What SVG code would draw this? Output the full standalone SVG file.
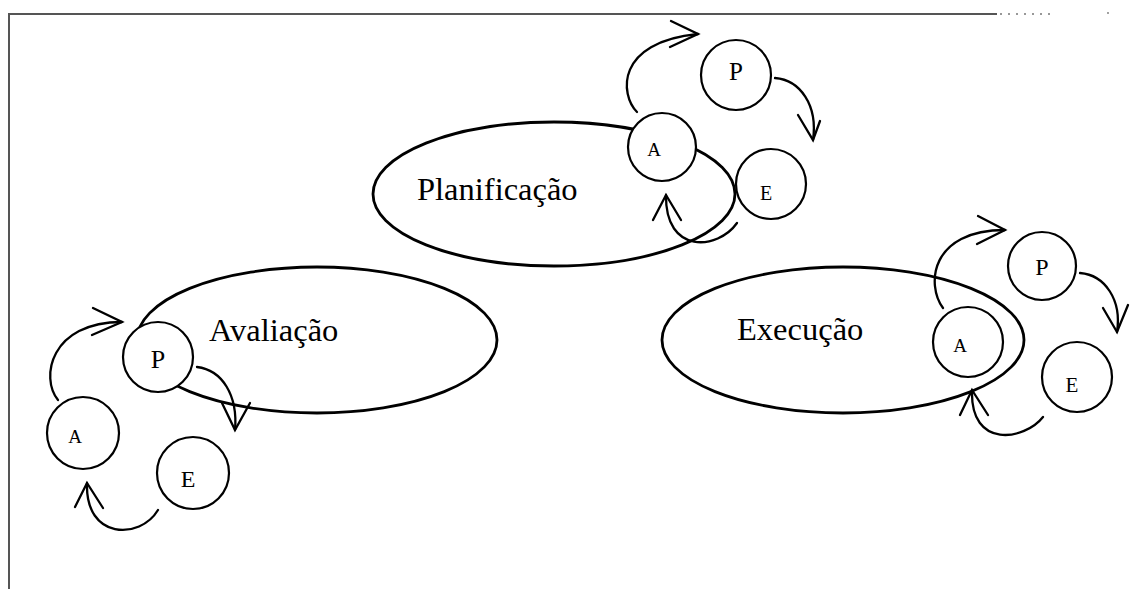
<svg xmlns="http://www.w3.org/2000/svg" width="1132" height="589" viewBox="0 0 1132 589">
<style>
.frame{fill:none;stroke:#555;stroke-width:2}
.dots{fill:none;stroke:#777;stroke-width:1.5;stroke-dasharray:2 6}
.ell{fill:none;stroke:#000;stroke-width:2.8}
.circ{fill:#fff;stroke:#000;stroke-width:2.2}
.lbl{font-family:"Liberation Serif",serif;font-size:32.5px;fill:#000}
.ltr{font-family:"Liberation Serif",serif;fill:#000;text-anchor:middle}
.arc{fill:none;stroke:#000;stroke-width:2.3;stroke-linecap:round}
.head{fill:none;stroke:#000;stroke-width:2.3;stroke-linecap:round;stroke-linejoin:miter}
</style>
<rect width="1132" height="589" fill="#fff"/>
<g id="frame">
<path class="frame" d="M9,589 L9,14 L997,14"/>
<path class="dots" d="M1000,14 L1055,14"/>
<circle cx="1108" cy="13" r="0.9" fill="#777"/>
</g>
<g id="ellipses">
<g id="planificacao"><ellipse class="ell" cx="554" cy="194" rx="181" ry="72"/><text class="lbl" x="417" y="200">Planificação</text></g>
<g id="avaliacao"><ellipse class="ell" cx="317" cy="340" rx="180" ry="73"/><text class="lbl" x="209" y="341">Avaliação</text></g>
<g id="execucao"><ellipse class="ell" cx="843" cy="340" rx="181" ry="73"/><text class="lbl" x="737" y="340">Execução</text></g>
</g>
<g id="connectors">
<path class="arc" d="M637,112 C620,95 615,42 698,34"/>
<path class="head" d="M671,21 L698,34 L670,47"/>
<path class="arc" d="M775,78 C800,80 818,105 813,140"/>
<path class="head" d="M798,115 L813,140 L820,121"/>
<path class="arc" d="M737,223 C718,250 665,255 666,195"/>
<path class="head" d="M653,220 L666,195 L681,220"/>
<path class="arc" d="M58,400 C40,378 50,322 122,322"/>
<path class="head" d="M93,308 L122,322 L92,335"/>
<path class="arc" d="M197,367 C222,370 238,395 235,430"/>
<path class="head" d="M222,403 L235,430 L250,403"/>
<path class="arc" d="M158,510 C140,540 85,540 87,483"/>
<path class="head" d="M75,507 L87,483 L103,508"/>
<path class="arc" d="M943,308 C926,285 930,230 1005,230"/>
<path class="head" d="M978,216 L1005,230 L977,244"/>
<path class="arc" d="M1080,273 C1105,275 1122,300 1117,332"/>
<path class="head" d="M1103,308 L1117,332 L1128,305"/>
<path class="arc" d="M1043,417 C1025,440 970,450 972,390"/>
<path class="head" d="M960,415 L972,390 L988,415"/>
</g>
<g id="plan-A"><circle class="circ" cx="662" cy="147" r="34"/><text class="ltr" x="654" y="156" font-size="19">A</text></g>
<g id="plan-P"><circle class="circ" cx="736" cy="75" r="35"/><text class="ltr" x="736" y="80" font-size="25">P</text></g>
<g id="plan-E"><circle class="circ" cx="771" cy="184" r="35"/><text class="ltr" x="766" y="200" font-size="20">E</text></g>
<g id="aval-P"><circle class="circ" cx="158" cy="357" r="35"/><text class="ltr" x="158" y="368" font-size="26">P</text></g>
<g id="aval-A"><circle class="circ" cx="83" cy="433" r="36"/><text class="ltr" x="75" y="443" font-size="19">A</text></g>
<g id="aval-E"><circle class="circ" cx="193" cy="473" r="36"/><text class="ltr" x="188" y="487" font-size="24">E</text></g>
<g id="exec-A"><circle class="circ" cx="968" cy="342" r="35"/><text class="ltr" x="960" y="352" font-size="19">A</text></g>
<g id="exec-P"><circle class="circ" cx="1042" cy="266" r="34"/><text class="ltr" x="1042" y="275" font-size="24">P</text></g>
<g id="exec-E"><circle class="circ" cx="1077" cy="377" r="35"/><text class="ltr" x="1072" y="392" font-size="21">E</text></g>
</svg>
